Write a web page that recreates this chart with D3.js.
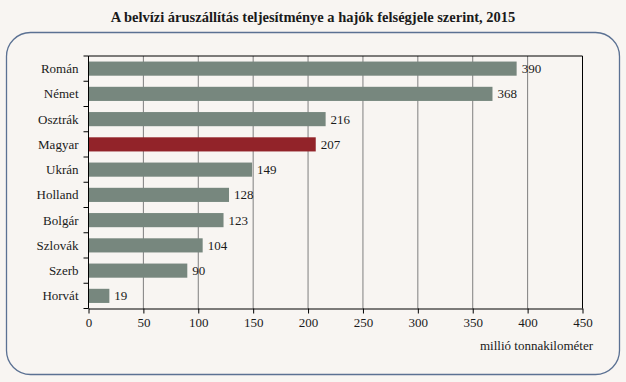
<!DOCTYPE html>
<html><head><meta charset="utf-8">
<script src="https://cdn.jsdelivr.net/npm/d3@7"></script>
<style>body{margin:0;background:#f8f5f2;} svg{display:block;}</style>
</head><body>
<svg id="c" width="626" height="382"></svg>
<script>
const categories = ["Román","Német","Osztrák","Magyar","Ukrán","Holland","Bolgár","Szlovák","Szerb","Horvát"];
const values = [390,368,216,207,149,128,123,104,90,19];
const highlight = "Magyar";
const xTicks = [0,50,100,150,200,250,300,350,400,450];
const title = "A belvízi áruszállítás teljesítménye a hajók felségjele szerint, 2015";
const unitLabel = "millió tonnakilométer";

const svg = d3.select("#c");
const W = 626, H = 382;
const font = "Liberation Serif";
svg.append("rect").attr("width",W).attr("height",H).attr("fill","#f8f5f2");

svg.append("text").attr("x",313).attr("y",22).attr("text-anchor","middle")
  .style("font-family",font).attr("font-weight","bold").attr("font-size",14.5).attr("fill","#1a1a1a")
  .text(title);

svg.append("rect").attr("x",6.5).attr("y",32.5).attr("width",613).attr("height",342)
  .attr("rx",24).attr("ry",24).attr("fill","#f8f5f2").attr("stroke","#5b7193").attr("stroke-width",1.3);

const m = {l:88.5, r:582.5, t:56, b:308.5};
const x = d3.scaleLinear().domain([0,450]).range([m.l,m.r]);
const y = d3.scaleBand().domain(categories).range([m.t,m.b]).paddingInner(0.44).paddingOuter(0.22);
const yb = d3.scaleBand().domain(categories).range([m.t,m.b]);

// gridlines
svg.append("g").selectAll("line").data(xTicks.slice(1,-1)).join("line")
  .attr("x1",d=>x(d)).attr("x2",d=>x(d)).attr("y1",m.t).attr("y2",m.b)
  .attr("stroke","#7f7f7f").attr("stroke-width",1);

// bars
svg.append("g").selectAll("rect").data(categories).join("rect")
  .attr("x",x(0)).attr("y",d=>y(d)).attr("height",y.bandwidth())
  .attr("width",(d,i)=>x(values[i])-x(0))
  .attr("fill",d=>d===highlight?"#922329":"#77877e");

// value labels
svg.append("g").selectAll("text").data(categories).join("text")
  .attr("x",(d,i)=>x(values[i])+5).attr("y",d=>y(d)+y.bandwidth()/2+4.5)
  .style("font-family",font).attr("font-size",13).attr("fill","#1a1a1a")
  .text((d,i)=>values[i]);

// plot border top/right
svg.append("line").attr("x1",m.l).attr("x2",m.r).attr("y1",m.t).attr("y2",m.t).attr("stroke","#000");
svg.append("line").attr("x1",m.r).attr("x2",m.r).attr("y1",m.t).attr("y2",m.b).attr("stroke","#000");

// x axis
const xa = svg.append("g").attr("transform",`translate(0,${m.b})`)
  .call(d3.axisBottom(x).tickValues(xTicks).tickSize(5).tickSizeOuter(0).tickPadding(4));
xa.attr("font-family",null).attr("font-size",null);
xa.select(".domain").attr("stroke","#000");
xa.selectAll("text").style("font-family",font).attr("font-size",13).attr("fill","#1a1a1a");

// y axis with ticks at band boundaries
const ya = svg.append("g").attr("transform",`translate(${m.l},0)`);
ya.append("line").attr("x1",0).attr("x2",0).attr("y1",m.t).attr("y2",m.b).attr("stroke","#000");
const bounds = categories.map(c=>yb(c)).concat([m.b]);
ya.selectAll("line.t").data(bounds).join("line").attr("class","t")
  .attr("x1",-5).attr("x2",0).attr("y1",d=>d).attr("y2",d=>d).attr("stroke","#000");
ya.selectAll("text").data(categories).join("text")
  .attr("x",-10).attr("y",d=>yb(d)+yb.bandwidth()/2+4.5).attr("text-anchor","end")
  .style("font-family",font).attr("font-size",13).attr("fill","#1a1a1a").text(d=>d);

svg.append("text").attr("x",593).attr("y",350).attr("text-anchor","end")
  .style("font-family",font).attr("font-size",13).attr("fill","#1a1a1a").text(unitLabel);
</script>
</body></html>
